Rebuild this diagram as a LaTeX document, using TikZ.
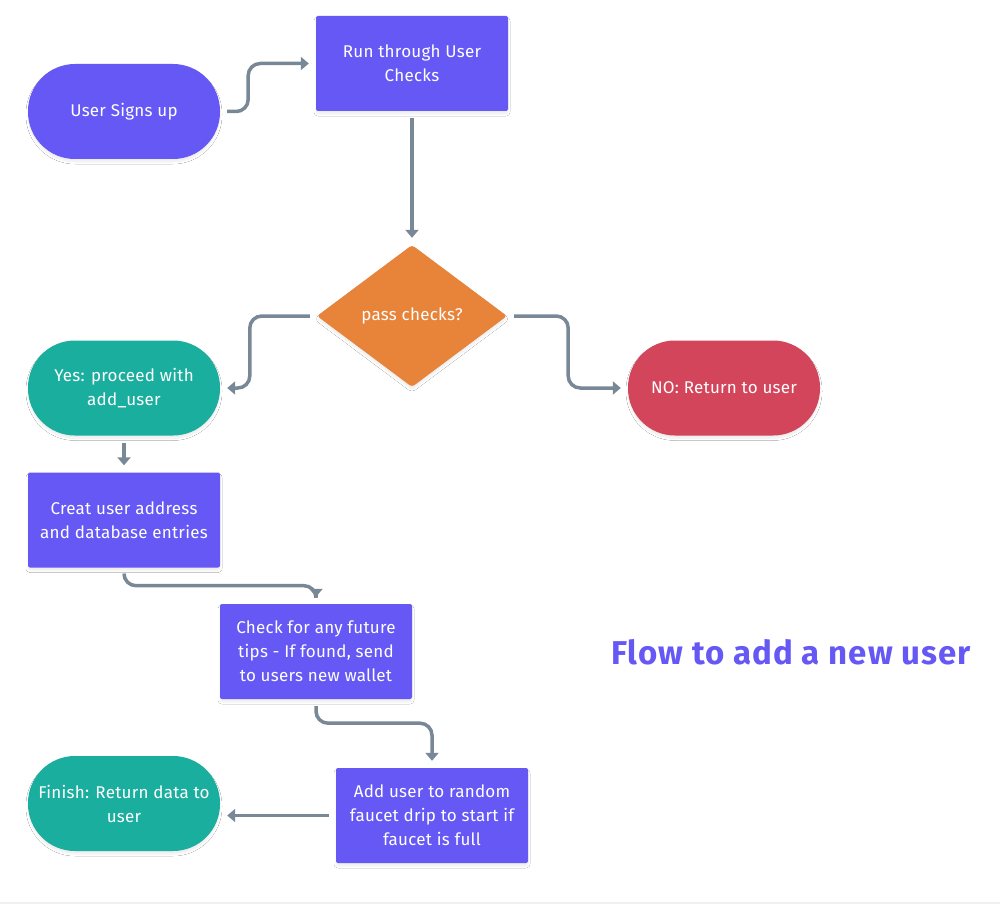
\documentclass[tikz,border=0pt]{standalone}
\usepackage{fontspec}
\setmainfont{Fira Sans}[LetterSpace=1.5]
\newfontfamily\titlefont{Fira Sans}[LetterSpace=3]
\usetikzlibrary{shapes.geometric,arrows.meta,calc,shadows.blur}
\definecolor{fpurple}{HTML}{6558F5}
\definecolor{fteal}{HTML}{1AAE9F}
\definecolor{forange}{HTML}{E8833A}
\definecolor{fred}{HTML}{D3455B}
\definecolor{fgray}{HTML}{788896}
\tikzset{
  x=1pt, y=-1pt,
  base/.style={text=white, font=\fontsize{17}{24}\selectfont, align=center, inner sep=0pt,
    blur shadow={shadow xshift=0pt, shadow yshift=-3pt, shadow blur steps=5, shadow blur radius=2pt, shadow opacity=7}},
  boxnode/.style={base, fill=fpurple, minimum width=192pt, minimum height=95pt, rounded corners=2pt},
  stadium/.style={base, minimum width=192pt, minimum height=95pt, rounded corners=47pt},
  decision/.style={base, diamond, fill=forange, minimum width=190pt, minimum height=142pt, rounded corners=3pt},
  conn/.style={draw=fgray, line width=3.5pt, rounded corners=12pt,
    -{Triangle[width=13pt,length=8pt]}, shorten <=7pt, shorten >=7pt},
}
\begin{document}
\begin{tikzpicture}
\useasboundingbox (0,0) rectangle (1000,904);
\fill[white] (0,0) rectangle (1000,904);
\draw[draw=black!6, line width=1.5pt] (0,903) -- (1000,903);

\node[stadium, fill=fpurple] (signup) at (124,111.5) {User Signs up};
\node[boxnode] (checks) at (412,63.5) {Run through User\\Checks};
\node[decision] (pass) at (412,316) {pass checks?};
\node[stadium, fill=fteal] (yes) at (124,388) {Yes: proceed with\\add\_user};
\node[stadium, fill=fred] (no) at (724,388) {NO: Return to user};
\node[boxnode] (creat) at (124,520) {Creat user address\\and database entries};
\node[boxnode] (check) at (316,651.5) {Check for any future\\tips - If found, send\\to users new wallet};
\node[boxnode] (add) at (432,815.5) {Add user to random\\faucet drip to start if\\faucet is full};
\node[stadium, fill=fteal] (finish) at (124,803.5) {Finish: Return data to\\user};
\node[text=fpurple, font=\titlefont\fontsize{33}{38}\selectfont\bfseries, inner sep=0pt] (title) at (791,652) {Flow to add a new user};

\draw[conn] (signup.east) -- ++(28,0) |- (checks.west);
\draw[conn] (checks.south) -- (pass.north);
\draw[conn] (pass.west) -- ++(-67,0) |- (yes.east);
\draw[conn] (pass.east) -- ++(61,0) |- (no.west);
\draw[conn] (yes.south) -- (creat.north);
\draw[conn] (creat.south) -- ++(0,18) -| (check.north);
\draw[conn] (check.south) -- ++(0,24) -| (add.north);
\draw[conn] (add.west) -- (add.west -| finish.east);
\end{tikzpicture}
\end{document}
